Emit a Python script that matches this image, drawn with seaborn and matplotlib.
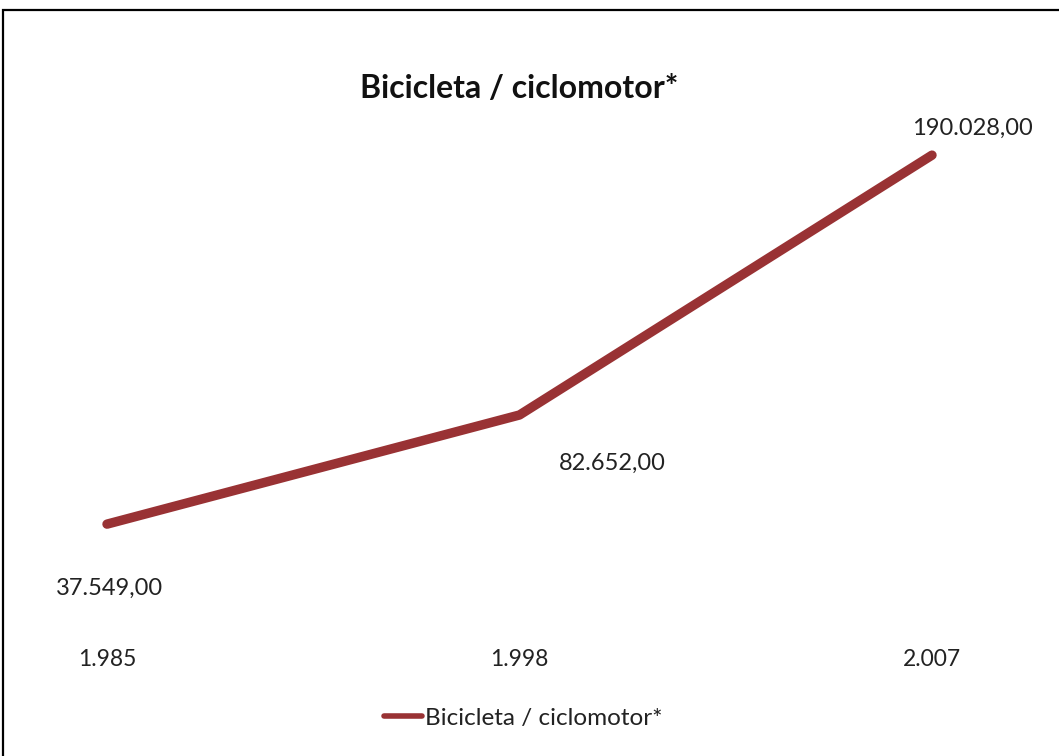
import matplotlib
matplotlib.use("Agg")
import matplotlib.pyplot as plt
import seaborn as sns
import pandas as pd
from matplotlib.patches import Rectangle

# data
anos = ['1.985', '1.998', '2.007']
valores = [37549, 82652, 190028]
rotulos = ['37.549,00', '82.652,00', '190.028,00']
serie = 'Bicicleta / ciclomotor*'

df = pd.DataFrame({'ano': anos, 'valor': valores})

sns.set_style('white')
plt.rcParams['font.family'] = ['Lato', 'DejaVu Sans']

fig = plt.figure(figsize=(10.59, 7.56), dpi=100)
W, H = 1059, 756

# axes placed so categories fall at the right pixel columns
ax = fig.add_axes([50 / W, 1 - 615 / H, 940 / W, 484 / H])
sns.lineplot(data=df, x='ano', y='valor', ax=ax, color='#993234',
             linewidth=6.8, solid_capstyle='round', solid_joinstyle='round',
             label=serie, legend=False)

ax.set_xlim(-57 / 412.5, 2 + 58 / 412.5)
ax.set_ylim(0, 200000)
ax.axis('off')

# data labels (offsets in px)
offsets = [(2, -64), (93, -48), (40, 27)]
for i, (v, r) in enumerate(zip(valores, rotulos)):
    dx, dy = offsets[i]
    ax.annotate(r, (i, v), xytext=(dx * 0.72, dy * 0.72), textcoords='offset points',
                ha='center', va='center', fontsize=17, color='#222222')

# category labels
for i, a in enumerate(anos):
    ax.annotate(a, (i, 0), xytext=(0, -45 * 0.72), textcoords='offset points',
                ha='center', va='center', fontsize=16.5, color='#222222')

fig.text(519 / W, 1 - 88 / H, serie, ha='center', va='center',
         fontsize=23, fontweight='bold', color='#111111')

# legend
leg = fig.legend(*ax.get_legend_handles_labels(), loc='center',
                 bbox_to_anchor=(523 / W, 1 - 718 / H), frameon=False,
                 fontsize=17.5, handlelength=1.6, handletextpad=0.1)
for t in leg.get_texts():
    t.set_color('#222222')
for ln in leg.get_lines():
    ln.set_linewidth(4)

# outer border
fig.patches.append(Rectangle((3 / W, -0.01), 1.1, 1 - 10 / H + 0.01,
                             transform=fig.transFigure, fill=False,
                             edgecolor='black', linewidth=1.6))

fig.savefig('out.png', dpi=100)
